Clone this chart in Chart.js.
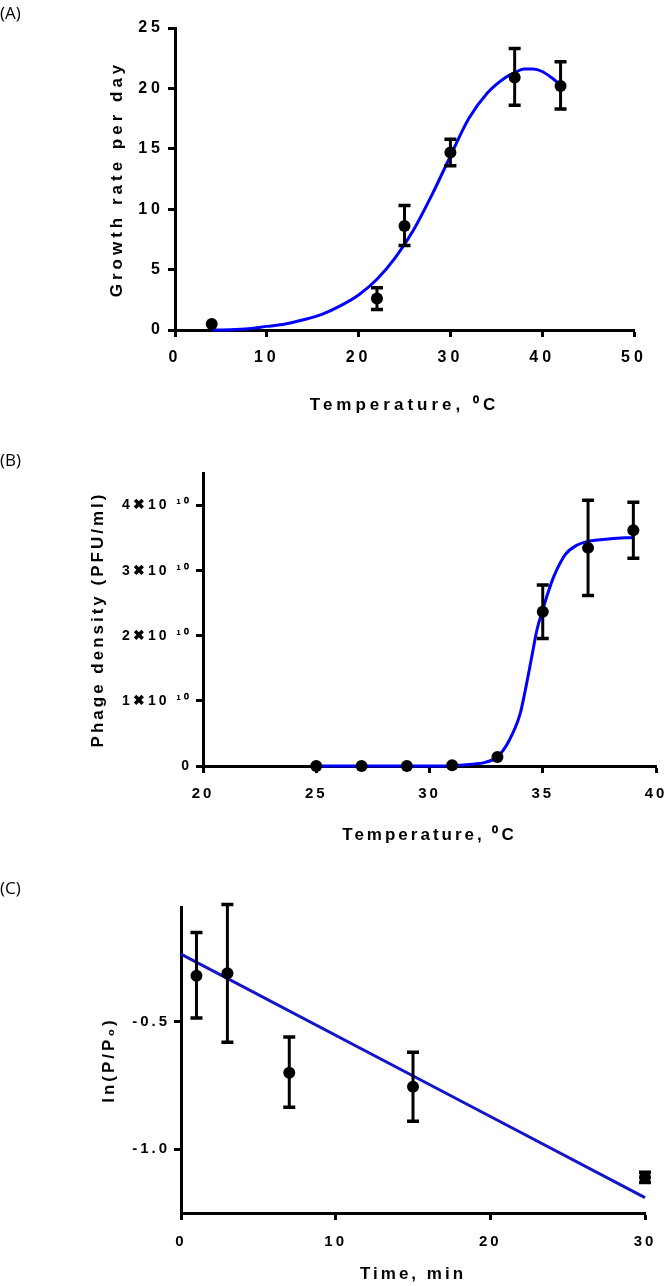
<!DOCTYPE html>
<html>
<head>
<meta charset="utf-8">
<script src="https://cdn.jsdelivr.net/npm/chart.js@4.4.1/dist/chart.umd.min.js"></script>
<style>
  body { margin: 0; width: 666px; height: 1286px; background: #fff; position: relative; overflow: hidden; }
  canvas { position: absolute; left: 0; }
  .tag { position: absolute; left: 0; font: 17px 'Open Sans', sans-serif; color: #000; }
</style>
</head>
<body>
<canvas id="chartA" style="top:0px" width="666" height="425"></canvas>
<canvas id="chartB" style="top:440px" width="666" height="420"></canvas>
<canvas id="chartC" style="top:870px" width="666" height="416"></canvas>
<div class="tag" style="top:1px">(A)</div>
<div class="tag" style="top:448px">(B)</div>
<div class="tag" style="top:876px">(C)</div>
<script>
// Panel A: growth rate vs temperature
const aTemp = [4, 22, 25, 30, 37, 42];
const aRate = [0.5, 2.6, 8.6, 14.7, 20.9, 20.2];
const aRateLow = [0.5, 1.7, 7.0, 13.6, 18.6, 18.3];
const aRateHigh = [0.5, 3.5, 10.3, 15.8, 23.3, 22.2];
const aFitTemp = [4, 6, 8, 10, 12, 14, 16, 18, 20, 22, 24, 26, 28, 30, 32, 34, 36, 37, 38, 39, 40, 41, 42];
const aFitRate = [0, 0.02, 0.1, 0.3, 0.5, 0.85, 1.3, 2.0, 2.9, 4.2, 6.0, 8.3, 11.2, 14.4, 17.5, 19.6, 20.9, 21.3, 21.6, 21.6, 21.4, 20.9, 20.3];
const aTicksX = [0, 10, 20, 30, 40, 50];
const aTicksY = [0, 5, 10, 15, 20, 25];

// Panel B: phage density vs temperature
const bTemp = [25, 27, 29, 31, 33, 35, 37, 39];
const bDensity = [0, 0, 0, 0.01e10, 0.14e10, 2.37e10, 3.35e10, 3.62e10];
const bDensityLow = [0, 0, 0, 0.01e10, 0.14e10, 1.96e10, 2.62e10, 3.19e10];
const bDensityHigh = [0, 0, 0, 0.01e10, 0.14e10, 2.78e10, 4.08e10, 4.05e10];
const bFitTemp = [25, 27, 29, 31, 32, 32.5, 33, 33.5, 34, 34.25, 34.5, 34.75, 35, 35.25, 35.5, 36, 36.5, 37, 38, 39];
const bFitDensity = [0, 0, 0, 0.005e10, 0.03e10, 0.06e10, 0.14e10, 0.38e10, 0.8e10, 1.2e10, 1.65e10, 2.1e10, 2.4e10, 2.68e10, 2.92e10, 3.25e10, 3.39e10, 3.45e10, 3.49e10, 3.51e10];
const bTicksX = [20, 25, 30, 35, 40];
const bTicksY = [0, 1e10, 2e10, 3e10, 4e10];

// Panel C: ln(P/P0) vs time
const cTime = [1, 3, 7, 15, 30];
const cLnRatio = [-0.32, -0.31, -0.70, -0.755, -1.11];
const cLnLow = [-0.485, -0.58, -0.835, -0.89, -1.13];
const cLnHigh = [-0.15, -0.04, -0.56, -0.62, -1.09];
const cFitTime = [0, 30];
const cFitLn = [-0.235, -1.19];
const cTicksX = [0, 10, 20, 30];
const cTicksY = [-1.0, -0.5];

const FONT = "'Liberation Sans', Arial, sans-serif";

const toXY = (xs, ys) => xs.map((x, i) => ({ x: x, y: ys[i] }));

// spaced-out lettering like the original figure
const spacing = {
  id: 'spacing',
  beforeLayout(chart, args, opts) { chart.ctx.letterSpacing = opts.px + 'px'; },
  beforeDraw(chart, args, opts) { chart.ctx.letterSpacing = opts.px + 'px'; }
};

// vertical error bars with caps
const errorBars = {
  id: 'errorBars',
  afterDatasetsDraw(chart, args, opts) {
    const { ctx, scales } = chart;
    ctx.save();
    ctx.strokeStyle = '#000';
    opts.xs.forEach((xv, i) => {
      if (opts.low[i] === opts.high[i]) return;
      const x = scales.x.getPixelForValue(xv);
      const y1 = scales.y.getPixelForValue(opts.high[i]);
      const y2 = scales.y.getPixelForValue(opts.low[i]);
      ctx.lineWidth = 3;
      ctx.beginPath();
      ctx.moveTo(x, y1);
      ctx.lineTo(x, y2);
      ctx.stroke();
      ctx.lineWidth = 3.5;
      ctx.beginPath();
      ctx.moveTo(x - 6, y1); ctx.lineTo(x + 6, y1);
      ctx.moveTo(x - 6, y2); ctx.lineTo(x + 6, y2);
      ctx.stroke();
    });
    ctx.restore();
  }
};

function axis(pos, min, max, tickVals, fmt, title, titlePad, size, tickSize, tickPad) {
  const left = pos === 'left';
  return {
    type: 'linear',
    position: pos,
    min: min,
    max: max,
    afterBuildTicks: s => { s.ticks = tickVals.map(v => ({ value: v })); },
    afterFit: s => {
      // fixed axis box; edge labels may overhang without shrinking the plot
      if (left) s.width = size; else s.height = size;
      s.paddingLeft = s.paddingRight = s.paddingTop = s.paddingBottom = 0;
    },
    grid: { drawOnChartArea: false, drawTicks: true, tickLength: 7, tickWidth: 3, tickColor: '#000' },
    border: { display: true, color: '#000', width: 3 },
    ticks: {
      color: '#000',
      font: { family: FONT, size: tickSize, weight: 'bold' },
      padding: tickPad,
      maxRotation: 0,
      autoSkip: false,
      callback: v => fmt(v)
    },
    title: {
      display: true,
      text: title,
      color: '#000',
      font: { family: FONT, size: 17, weight: 'bold' },
      padding: left ? { top: titlePad, bottom: 0 } : { top: 0, bottom: titlePad }
    }
  };
}

function makePanel(id, p) {
  return new Chart(document.getElementById(id), {
    type: 'scatter',
    data: {
      datasets: [
        {
          data: toXY(p.xs, p.ys),
          pointRadius: 6,
          pointHoverRadius: 6,
          backgroundColor: '#000',
          borderWidth: 0,
          clip: false
        },
        {
          type: 'line',
          data: toXY(p.fitX, p.fitY),
          borderColor: p.fitColor,
          borderWidth: 3,
          pointRadius: 0,
          tension: 0.4,
          cubicInterpolationMode: 'monotone',
          fill: false,
          clip: false
        }
      ]
    },
    options: {
      responsive: false,
      animation: false,
      events: [],
      layout: { padding: p.padding },
      plugins: {
        legend: { display: false },
        tooltip: { enabled: false },
        spacing: { px: p.spacing },
        errorBars: { xs: p.xs, low: p.low, high: p.high }
      },
      scales: { x: p.x, y: p.y }
    },
    plugins: [spacing, errorBars]
  });
}

makePanel('chartA', {
  xs: aTemp, ys: aRate, low: aRateLow, high: aRateHigh,
  fitX: aFitTemp, fitY: aFitRate, fitColor: '#0000ff',
  spacing: 4,
  padding: { top: 28, right: 32, left: 0, bottom: 0 },
  x: axis('bottom', 0, 50, aTicksX, v => String(v), 'Temperature, \u2070C', 9, 95, 16, 11),
  y: axis('left', 0, 25, aTicksY, v => String(v), 'Growth rate per day', 107, 175, 16, 4)
});

makePanel('chartB', {
  xs: bTemp, ys: bDensity, low: bDensityLow, high: bDensityHigh,
  fitX: bFitTemp, fitY: bFitDensity, fitColor: '#0000ff',
  spacing: 3,
  padding: { top: 33, right: 10, left: 0, bottom: 0 },
  x: axis('bottom', 20, 40, bTicksX, v => String(v), 'Temperature, \u2070C', 14, 94, 15, 12),
  y: axis('left', 0, 4.5e10, bTicksY, v => v === 0 ? '0' : (v / 1e10) + '\u271610 \u00b9\u2070', 'Phage density (PFU/ml)', 88, 203, 14, 4)
});

makePanel('chartC', {
  xs: cTime, ys: cLnRatio, low: cLnLow, high: cLnHigh,
  fitX: cFitTime, fitY: cFitLn, fitColor: '#1414c8',
  spacing: 3,
  padding: { top: 37, right: 21, left: 0, bottom: 0 },
  x: axis('bottom', 0, 30, cTicksX, v => String(v), 'Time, min', 1, 73, 15, 13),
  y: axis('left', -1.25, -0.05, cTicksY, v => v.toFixed(1), 'ln(P/P\u2080)', 99, 181, 15, 4)
});
</script>
</body>
</html>
